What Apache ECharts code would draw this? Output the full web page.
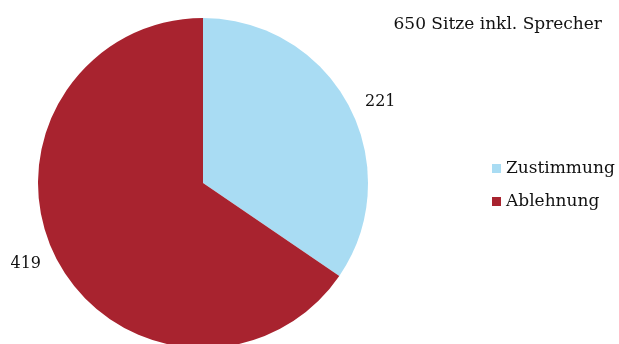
<!DOCTYPE html>
<html><head><meta charset="utf-8">
<script src="https://cdn.jsdelivr.net/npm/echarts@6/dist/echarts.min.js"></script>
<style>html,body{margin:0;padding:0;background:#fff}#c{width:619px;height:344px}</style>
</head><body><div id="c"></div>
<script>
var categories = ['Zustimmung', 'Ablehnung'];
var values = [221, 419];
var colors = ['#A9DCF3', '#A8232F'];
var title = '650 Sitze inkl. Sprecher';
var font = '"DejaVu Serif", "Liberation Serif", serif';

var chart = echarts.init(document.getElementById('c'));
chart.setOption({
  animation: false,
  title: { text: title, right: 12, top: 11, textStyle: { fontFamily: font, fontSize: 17, fontWeight: 'normal', color: '#111' } },
  legend: {
    orient: 'vertical', left: 487, top: 155, itemWidth: 9, itemHeight: 9, itemGap: 16, icon: 'rect',
    data: categories,
    textStyle: { fontFamily: font, fontSize: 17, color: '#111' }
  },
  series: [{
    type: 'pie', center: [203, 183], radius: 165, startAngle: 90, clockwise: true,
    data: categories.map(function (c, i) { return { name: c, value: values[i], itemStyle: { color: colors[i] } }; }),
    label: { show: true, position: 'outside', formatter: '{c}', fontFamily: font, fontSize: 16, color: '#111', overflow: 'none' },
    labelLine: { show: false, length: 8, length2: 4 },
    emphasis: { disabled: true }
  }]
});
</script></body></html>
